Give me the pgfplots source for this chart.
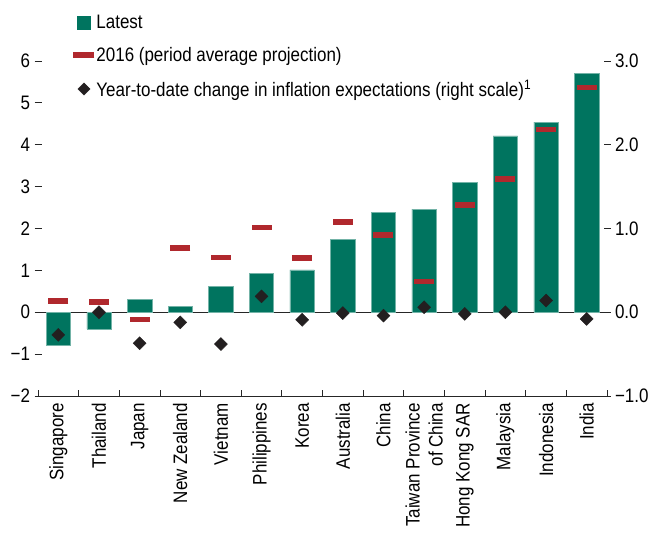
\documentclass[border=0pt]{standalone}
\usepackage{fontspec}
\setmainfont{Liberation Sans}[FakeStretch=0.87]
\usepackage{pgfplots}
\pgfplotsset{compat=1.18}
\definecolor{barteal}{HTML}{00745F}
\definecolor{projred}{HTML}{B0282D}
\definecolor{diamk}{HTML}{231F20}
\newcommand{\fnt}{\fontsize{19.5}{23}\selectfont}
\begin{document}
\begin{tikzpicture}[font=\fnt]
\begin{axis}[
  scale only axis, width=569pt, height=335pt,
  xmin=-0.5, xmax=13.5, ymin=-2, ymax=6,
  clip=false,
  axis x line*=bottom, axis y line*=left,
  y axis line style={draw=none},
  x axis line style={line width=0.8pt, black!85},
  xtick={0,...,13},
  xticklabels={Singapore,Thailand,Japan,New Zealand,Vietnam,Philippines,Korea,Australia,China,{Taiwan Province\\of China},Hong Kong SAR,Malaysia,Indonesia,India},
  major x tick style={draw=none},
  minor xtick={-0.5,0.5,...,13.5},
  minor tick length=6pt,
  minor x tick style={line width=0.8pt, black!85},
  xtick align=inside,
  xticklabel style={rotate=90, anchor=east, align=right, font=\fnt, inner xsep=7pt, inner ysep=1pt},
  ytick={-2,...,6},
  yticklabels={−2,−1,0,1,2,3,4,5,6},
  ytick align=center,
  major tick length=7pt,
  y tick style={line width=0.8pt, black!85},
  yticklabel style={font=\fnt, xshift=-1pt},
  legend style={at={(0.062,1.143)}, anchor=north west, draw=none, fill=none,
    font=\fnt, row sep=13pt, inner sep=0pt},
  legend cell align=left,
]
\addplot[black!85, line width=0.8pt, forget plot] coordinates {(-0.5,0) (13.5,0)};
\addplot[ybar, bar width=0.6, fill=barteal, draw=barteal!55!white, line width=0.5pt, forget plot] coordinates {
  (0,-0.79) (1,-0.40) (2,0.30) (3,0.14) (4,0.61) (5,0.93) (6,1.01)
  (7,1.74) (8,2.38) (9,2.46) (10,3.10) (11,4.21) (12,4.54) (13,5.71)};
\addplot[only marks, mark=-, mark size=10pt, mark options={draw=projred, line width=5.5pt}, forget plot] coordinates {
  (0,0.27) (1,0.25) (2,-0.17) (3,1.53) (4,1.31) (5,2.02) (6,1.29)
  (7,2.15) (8,1.84) (9,0.73) (10,2.56) (11,3.18) (12,4.37) (13,5.37)};
\addlegendimage{only marks, mark=square*, mark size=6.3pt, mark options={fill=barteal, draw=barteal}}
\addlegendentry{Latest}
\addlegendimage{only marks, mark=-, mark size=10.5pt, mark options={draw=projred, line width=5.5pt}}
\addlegendentry{2016 (period average projection)}
\addlegendimage{only marks, mark=square*, mark size=4.3pt, mark options={rotate=45, fill=diamk, draw=diamk}}
\addlegendentry{Year-to-date change in inflation expectations (right scale)\textsuperscript{1}}
\end{axis}
\begin{axis}[
  scale only axis, width=569pt, height=335pt,
  xmin=-0.5, xmax=13.5, ymin=-1, ymax=3,
  clip=false,
  axis x line=none, axis y line*=right,
  y axis line style={draw=none},
  ytick={-1,0,1,2,3},
  yticklabels={−1.0,0.0,1.0,2.0,3.0},
  ytick align=center,
  major tick length=7pt,
  y tick style={line width=0.8pt, black!85},
  yticklabel style={font=\fnt, xshift=1pt},
]
\addplot[only marks, mark=square*, mark size=4.6pt, mark options={rotate=45, fill=diamk, draw=diamk}] coordinates {
  (0,-0.27) (1,0.00) (2,-0.37) (3,-0.12) (4,-0.38) (5,0.19) (6,-0.09)
  (7,-0.01) (8,-0.04) (9,0.06) (10,-0.02) (11,0.00) (12,0.14) (13,-0.08)};
\end{axis}
\pgfresetboundingbox
\path ([shift={(-38pt,-140pt)}]current axis.south west) rectangle ([shift={(48pt,61pt)}]current axis.north east);
\end{tikzpicture}
\end{document}
